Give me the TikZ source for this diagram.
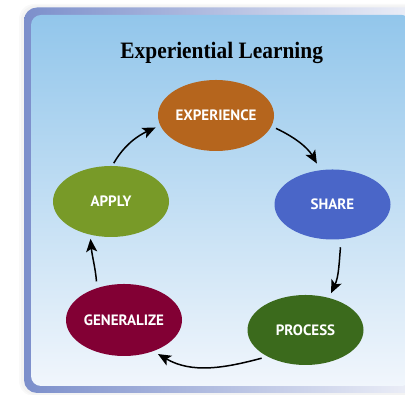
\documentclass[tikz,border=0pt]{standalone}
\usepackage{fontspec}
\setmainfont{Liberation Serif}
\newfontfamily\labelfont{PT Sans}
\usetikzlibrary{shapes.geometric,arrows.meta}
\definecolor{expc}{HTML}{B5651D}
\definecolor{sharec}{HTML}{4A66C8}
\definecolor{applyc}{HTML}{789A28}
\definecolor{genc}{HTML}{820034}
\definecolor{procc}{HTML}{3B6A1C}
\definecolor{frameL}{HTML}{7C8FCB}
\definecolor{frameR}{HTML}{EEF0F8}
\definecolor{panelT}{HTML}{92C6EB}
\definecolor{panelB}{HTML}{F1F6FC}
\tikzset{
  stage/.style={ellipse, minimum width=116pt, minimum height=71pt, inner sep=0pt,
    text=white, font=\labelfont\bfseries\fontsize{15}{15}\selectfont},
  arr/.style={-{Stealth[length=13pt,width=11pt,inset=3pt]}, line width=1.5pt, black},
  titlestyle/.style={font=\bfseries\fontsize{23.5}{23.5}\selectfont, inner sep=0pt}
}
\begin{document}
\begin{tikzpicture}[x=1pt,y=1pt]
\useasboundingbox (0,0) rectangle (405,395);
\clip (0,0) rectangle (405,395);
% soft shadow
\fill[black, opacity=0.025, rounded corners=15pt] (19,-1) rectangle (425,391);
\fill[black, opacity=0.025, rounded corners=14pt] (21,0) rectangle (425,389.5);
% frame
\shade[left color=frameL, right color=frameR, rounded corners=13pt] (24,2) rectangle (420,387.5);
\shade[top color=panelT, bottom color=panelB, rounded corners=10pt] (31,9) rectangle (412,380);
% title
\node[titlestyle, anchor=base] (title) at (221.7,336) {\scalebox{0.91}[1]{Experiential Learning}};
% stages
\node[stage, fill=expc]   (exp)     at (216,279.5)   {EXPERIENCE};
\node[stage, fill=sharec, minimum height=70pt] (share)   at (332.5,190.5) {SHARE};
\node[stage, fill=procc, minimum height=70pt]  (process) at (305.5,65)    {PROCESS};
\node[stage, fill=genc, minimum height=72pt]   (gen)     at (124,75)      {GENERALIZE};
\node[stage, fill=applyc] (apply)   at (111,193.5)   {APPLY};
% cycle arrows
\draw[arr, shorten <=5pt, shorten >=7.5pt] (exp.-11) to[out=-25,in=120] (share.109);
\draw[arr, shorten <=8pt, shorten >=5pt] (share.-76) to[out=-95,in=65] (process.54);
\draw[arr, shorten <=6pt, shorten >=5.5pt] (process.215) to[out=195,in=-30] (gen.-47);
\draw[arr, shorten <=6.5pt, shorten >=4pt] (gen.130) to[out=95,in=-85] (apply.238);
\draw[arr, shorten <=3pt, shorten >=5pt] (apply.88) to[out=60,in=205] (exp.190);
\end{tikzpicture}
\end{document}
